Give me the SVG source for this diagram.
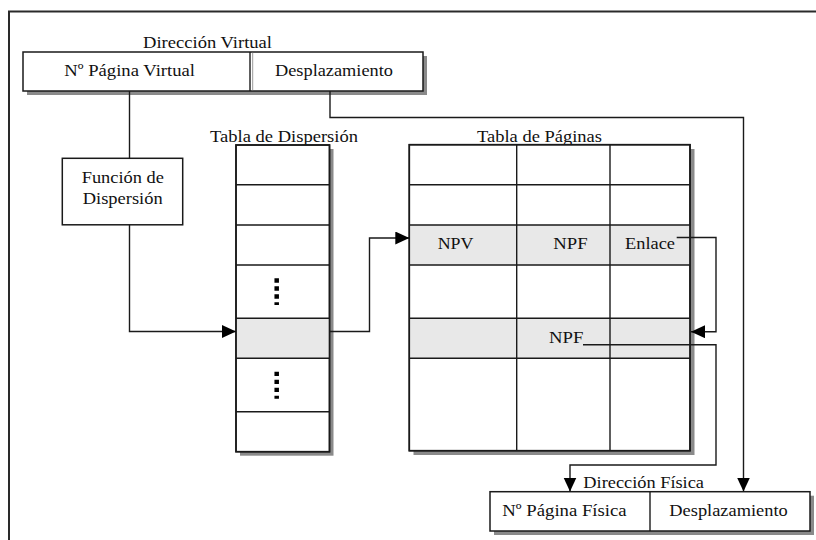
<svg xmlns="http://www.w3.org/2000/svg" width="816" height="540" viewBox="0 0 816 540">
  <style>
    .t { font-family: "Liberation Serif", "Times New Roman", serif; font-size: 17px; fill: #111; }
    .box { fill: #fff; stroke: #1a1a1a; stroke-width: 1.5; }
    .shadow { fill: #8a8a8a; }
    .grid { stroke: #1a1a1a; stroke-width: 1.4; fill: none; }
    .hl { fill: #e8e8e8; }
    .wire { fill: none; stroke: #1a1a1a; stroke-width: 1.4; }
    .dots { stroke: #000; stroke-width: 4.5; stroke-dasharray: 4.4 3.6; }
  </style>
  <defs>
    <marker id="arrow" markerUnits="userSpaceOnUse" markerWidth="15" markerHeight="14" refX="14" refY="6.5" orient="auto">
      <path d="M0,0 L14,6.5 L0,13 z" fill="#000"/>
    </marker>
  </defs>

  <rect width="816" height="540" fill="#fff"/>
  <!-- outer frame -->
  <rect x="9" y="11.5" width="900" height="600" fill="none" stroke="#2a2a2a" stroke-width="2"/>

  <!-- virtual address -->
  <g id="virtual-address">
    <text class="t" x="143" y="48.3" textLength="129" lengthAdjust="spacingAndGlyphs">Dirección Virtual</text>
    <rect class="shadow" x="27" y="56" width="400" height="39"/>
    <rect class="box" x="23" y="52" width="400" height="39"/>
    <line x1="250" y1="52" x2="250" y2="91" stroke="#1a1a1a" stroke-width="1.4"/>
    <line x1="252.7" y1="52.8" x2="252.7" y2="90.2" stroke="#999" stroke-width="1"/>
    <text class="t" x="64.3" y="75.5" textLength="130.7" lengthAdjust="spacingAndGlyphs">Nº Página Virtual</text>
    <text class="t" x="275" y="75.5" textLength="118" lengthAdjust="spacingAndGlyphs">Desplazamiento</text>
  </g>

  <!-- hash function -->
  <g id="hash-function">
    <rect class="box" x="62.3" y="158.3" width="120.4" height="66.5"/>
    <text class="t" x="81.7" y="182.5" textLength="82.3" lengthAdjust="spacingAndGlyphs">Función de</text>
    <text class="t" x="82.7" y="204.3" textLength="80" lengthAdjust="spacingAndGlyphs">Dispersión</text>
  </g>

  <!-- hash table -->
  <g id="hash-table">
    <text class="t" x="210" y="141.5" textLength="148" lengthAdjust="spacingAndGlyphs">Tabla de Dispersión</text>
    <rect class="shadow" x="240" y="149" width="93.5" height="306.7"/>
    <rect class="box" x="236" y="145" width="93.5" height="306.7"/>
    <rect class="hl" x="236.8" y="318.3" width="92" height="40"/>
    <path class="grid" d="M236 184.7 H329.5 M236 225 H329.5 M236 265 H329.5 M236 318.3 H329.5 M236 358.3 H329.5 M236 411.7 H329.5"/>
    <rect x="236" y="145" width="93.5" height="306.7" fill="none" stroke="#1a1a1a" stroke-width="1.6"/>
    <line class="dots" x1="276.7" y1="278.3" x2="276.7" y2="305"/>
    <line class="dots" x1="276.7" y1="371.7" x2="276.7" y2="398.7"/>
  </g>

  <!-- page table -->
  <g id="page-table">
    <text class="t" x="477" y="142" textLength="125" lengthAdjust="spacingAndGlyphs">Tabla de Páginas</text>
    <rect class="shadow" x="413.5" y="149" width="281" height="306"/>
    <rect class="box" x="409.3" y="144.7" width="280.7" height="306"/>
    <rect class="hl" x="410" y="225" width="279.3" height="40"/>
    <rect class="hl" x="410" y="318.3" width="279.3" height="40"/>
    <path class="grid" d="M409.3 184.7 H690 M409.3 225 H690 M409.3 265 H690 M409.3 318.3 H690 M409.3 358.3 H690 M516.7 144.7 V450.7 M610 144.7 V450.7"/>
    <rect x="409.3" y="144.7" width="280.7" height="306" fill="none" stroke="#1a1a1a" stroke-width="1.6"/>
    <text class="t" x="437.7" y="248.5" textLength="35.7" lengthAdjust="spacingAndGlyphs">NPV</text>
    <text class="t" x="553.3" y="248.5" textLength="34.3" lengthAdjust="spacingAndGlyphs">NPF</text>
    <text class="t" x="625" y="248.5" textLength="50" lengthAdjust="spacingAndGlyphs">Enlace</text>
    <text class="t" x="549" y="342.5" textLength="34.3" lengthAdjust="spacingAndGlyphs">NPF</text>
  </g>

  <!-- physical address -->
  <g id="physical-address">
    <text class="t" x="583.3" y="488.3" textLength="120.7" lengthAdjust="spacingAndGlyphs">Dirección Física</text>
    <rect class="shadow" x="494" y="495.7" width="320" height="39.3"/>
    <rect class="box" x="490" y="491.7" width="320" height="39.3"/>
    <line x1="650" y1="491.7" x2="650" y2="531" stroke="#1a1a1a" stroke-width="1.4"/>
    <text class="t" x="502.3" y="516" textLength="124.4" lengthAdjust="spacingAndGlyphs">Nº Página Física</text>
    <text class="t" x="669.3" y="516" textLength="118.4" lengthAdjust="spacingAndGlyphs">Desplazamiento</text>
  </g>

  <!-- connectors -->
  <g id="connectors">
    <path class="wire" d="M129.5 91 V158.3"/>
    <path class="wire" d="M129.5 224.8 V331.5 H236" marker-end="url(#arrow)"/>
    <path class="wire" d="M329.5 331.5 H369.5 V238 H409.3" marker-end="url(#arrow)"/>
    <path class="wire" d="M676.7 237.5 H716 V331.7 H691" marker-end="url(#arrow)"/>
    <path class="wire" d="M583 344.8 H716 V465 H570 V491.5" marker-end="url(#arrow)"/>
    <path class="wire" d="M330 91 V117.5 H743.5 V491.5" marker-end="url(#arrow)"/>
  </g>
</svg>
